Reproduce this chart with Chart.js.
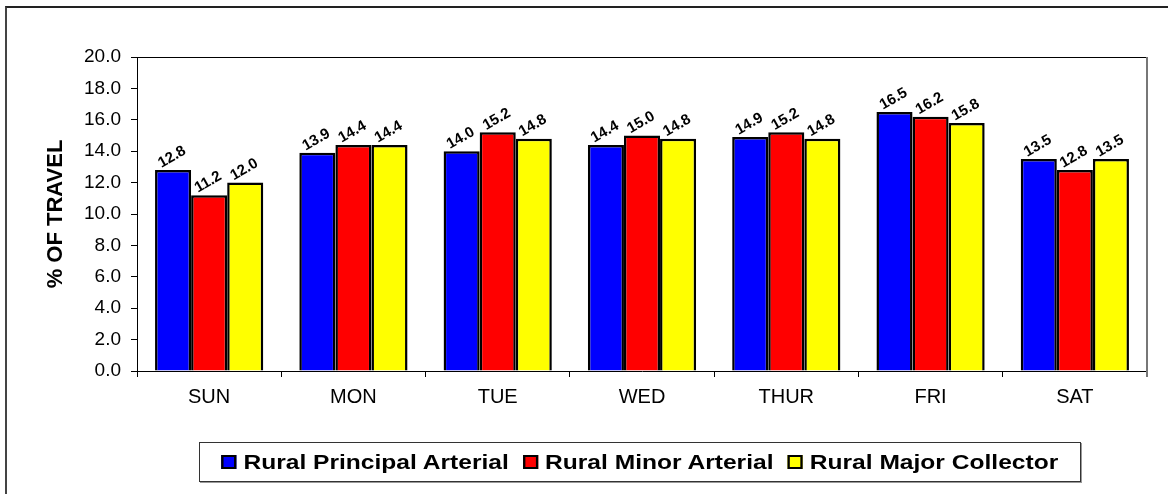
<!DOCTYPE html>
<html><head><meta charset="utf-8">
<script src="https://cdn.jsdelivr.net/npm/chart.js@4/dist/chart.umd.min.js"></script>
<style>
html,body{margin:0;padding:0;background:#fff;}
#wrap{position:absolute;left:0;top:0;width:1168px;height:494px;overflow:hidden;}
#frame{position:absolute;left:5px;top:6px;width:1200px;height:600px;border-left:2px solid #444;border-top:2px solid #222;}
canvas{position:absolute;left:0;top:0;}
#legend{position:absolute;left:199px;top:442px;width:880px;height:38px;border:1px solid #333;box-shadow:1px 1px 0 #999;background:#fff;
display:flex;align-items:center;justify-content:center;font-family:Arial,"Liberation Sans",sans-serif;font-weight:bold;font-size:21px;color:#000;}
#legend .inner{display:flex;align-items:center;transform:scaleX(1.17);transform-origin:center;white-space:nowrap;}
#legend .it{display:flex;align-items:center;margin:0 6px;}
#legend .sw{width:9px;height:10px;border:2px solid #000;margin-right:6px;}
</style></head>
<body>
<div id="wrap">
<div id="frame"></div>
<canvas id="c" width="1168" height="494"></canvas>
<div id="legend"><div class="inner" id="lgi"></div></div>
</div>
<script>
const categories = ["SUN","MON","TUE","WED","THUR","FRI","SAT"];
const seriesNames = ["Rural Principal Arterial","Rural Minor Arterial","Rural Major Collector"];
const principalArterial = [12.8,13.9,14.0,14.4,14.9,16.5,13.5];
const minorArterial = [11.2,14.4,15.2,15.0,15.2,16.2,12.8];
const majorCollector = [12.0,14.4,14.8,14.8,14.8,15.8,13.5];
const seriesColors = ["#0000FF","#FF0000","#FFFF00"];
const yTicks = [0,2,4,6,8,10,12,14,16,18,20];

const FONT = 'Arial, "Liberation Sans", sans-serif';

const labelPlugin = {
  id:'barLabels',
  afterDatasetsDraw(chart){
    const ctx = chart.ctx;
    chart.data.datasets.forEach((ds,i)=>{
      const meta = chart.getDatasetMeta(i);
      meta.data.forEach((bar,j)=>{
        ctx.save();
        ctx.translate(bar.x - 1, bar.y - 13);
        ctx.rotate(-30*Math.PI/180);
        ctx.font = 'bold 15px ' + FONT;
        ctx.fillStyle = '#000';
        ctx.textAlign = 'center';
        ctx.textBaseline = 'middle';
        ctx.fillText(ds.data[j].toFixed(1), 0, 0);
        ctx.restore();
      });
    });
  }
};
const boxPlugin = {
  id:'plotBox',
  afterDraw(chart){
    const a = chart.chartArea, ctx = chart.ctx;
    ctx.save();
    ctx.lineWidth = 1;
    ctx.strokeStyle = '#000';
    ctx.beginPath();
    ctx.moveTo(a.left, a.top+0.5); ctx.lineTo(a.right, a.top+0.5);
    ctx.stroke();
    ctx.strokeStyle = '#777';
    ctx.lineWidth = 2;
    ctx.beginPath();
    ctx.moveTo(a.right, a.top); ctx.lineTo(a.right, a.bottom+6);
    ctx.stroke();
    ctx.restore();
  }
};

new Chart(document.getElementById('c'), {
  type:'bar',
  data:{
    labels: categories,
    datasets:[
      {label:seriesNames[0], data:principalArterial, backgroundColor:seriesColors[0]},
      {label:seriesNames[1], data:minorArterial, backgroundColor:seriesColors[1]},
      {label:seriesNames[2], data:majorCollector, backgroundColor:seriesColors[2]}
    ].map(d=>Object.assign(d,{borderColor:'#000',borderWidth:2.5,categoryPercentage:0.75,barPercentage:1.0}))
  },
  options:{
    responsive:false, animation:false, devicePixelRatio:1,
    layout:{padding:{left:0,right:21,top:57,bottom:84}},
    plugins:{legend:{display:false}, tooltip:{enabled:false}},
    scales:{
      x:{
        grid:{display:true, drawOnChartArea:false, color:'#000', tickLength:6, offset:true},
        border:{display:true, color:'#000', width:1},
        ticks:{color:'#000', font:{family:FONT, size:20}, padding:8, maxRotation:0},
        afterFit(s){ s.height = 39; }
      },
      y:{
        min:0, max:20,
        afterBuildTicks(s){ s.ticks = yTicks.map(v=>({value:v})); },
        grid:{display:true, drawOnChartArea:false, color:'#000', tickLength:6},
        border:{display:true, color:'#000', width:1},
        ticks:{color:'#000', font:{family:FONT, size:19}, padding:10, callback:v=>Number(v).toFixed(1)},
        title:{display:true, text:'% OF TRAVEL', color:'#000', font:{family:FONT, size:22, weight:'bold'}, padding:{top:43,bottom:0}},
        afterFit(s){ s.width = 137; }
      }
    }
  },
  plugins:[labelPlugin, boxPlugin]
});

const lg = document.getElementById('lgi');
seriesNames.forEach((n,i)=>{
  const it = document.createElement('div'); it.className='it';
  const sw = document.createElement('div'); sw.className='sw'; sw.style.background=seriesColors[i];
  const t = document.createElement('span'); t.textContent=n;
  it.appendChild(sw); it.appendChild(t); lg.appendChild(it);
});
</script>
</body></html>
